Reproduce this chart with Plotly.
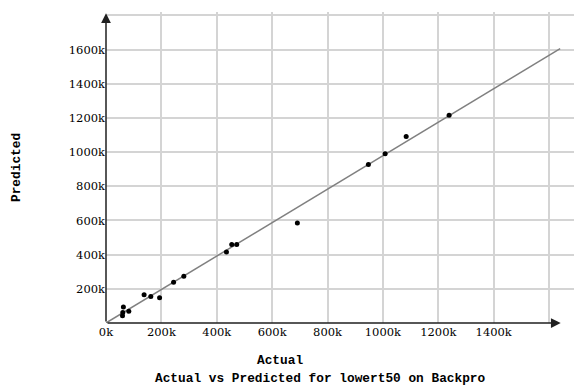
import plotly.graph_objects as go

# data in thousands
actual = [62.8, 60.7, 59.6, 82.3, 137.6, 161.8, 193.5, 244, 281, 435, 454, 472, 691, 947.5, 1008, 1084, 1239]
predicted = [93.6, 60.9, 42.1, 68.5, 166, 155, 147.5, 238, 273, 415.6, 459, 459, 585, 927, 991, 1091, 1216]

fit_x = [0, 1640]
fit_y = [0, 1606]

x_ticks = [0, 200, 400, 600, 800, 1000, 1200, 1400, 1600]
x_tick_labels = ["0k", "200k", "400k", "600k", "800k", "1000k", "1200k", "1400k", ""]
y_ticks = [0, 200, 400, 600, 800, 1000, 1200, 1400, 1600, 1800]
y_tick_labels = ["", "200k", "400k", "600k", "800k", "1000k", "1200k", "1400k", "1600k", ""]

X_MAX = 1690
Y_MAX = 1820

fig = go.Figure()
fig.add_trace(go.Scatter(x=fit_x, y=fit_y, mode="lines",
                         line=dict(color="#808080", width=1.5), hoverinfo="skip"))
fig.add_trace(go.Scatter(x=actual, y=predicted, mode="markers",
                         marker=dict(color="black", size=5)))

# axes with arrowheads
fig.add_annotation(x=1642, y=0, ax=0, ay=0, xref="x", yref="y", axref="x", ayref="y",
                   text="", showarrow=True, arrowhead=2, arrowsize=1.3, arrowwidth=1.5,
                   arrowcolor="#202020")
fig.add_annotation(x=0, y=1813, ax=0, ay=0, xref="x", yref="y", axref="x", ayref="y",
                   text="", showarrow=True, arrowhead=2, arrowsize=1.3, arrowwidth=1.5,
                   arrowcolor="#202020")

tick_font = dict(family="DejaVu Serif", size=11.5, color="black")
mono = dict(family="Liberation Mono", size=12.8, color="black")

fig.update_layout(
    width=574, height=390,
    margin=dict(l=106, r=0, t=12, b=67),
    paper_bgcolor="white", plot_bgcolor="white",
    showlegend=False,
    xaxis=dict(range=[0, X_MAX], tickvals=x_ticks, ticktext=x_tick_labels,
               showgrid=True, gridcolor="#d4d4d4", gridwidth=1.5,
               zeroline=False, showline=False, ticks="", tickfont=tick_font,
               fixedrange=True),
    yaxis=dict(range=[0, Y_MAX], tickvals=y_ticks, ticktext=y_tick_labels,
               showgrid=True, gridcolor="#d4d4d4", gridwidth=1.5,
               zeroline=False, showline=False, ticks="", tickfont=tick_font,
               fixedrange=True),
)

fig.add_annotation(text="<b>Actual</b>", xref="paper", yref="paper", x=(280 - 106) / 468, y=-(360 - 323) / 311,
                   showarrow=False, font=mono, xanchor="center", yanchor="middle")
fig.add_annotation(text="<b>Actual vs Predicted for lowert50 on Backpro</b>", xref="paper", yref="paper",
                   x=(320 - 106) / 468, y=-(378 - 323) / 311,
                   showarrow=False, font=mono, xanchor="center", yanchor="middle")
fig.add_annotation(text="<b>Predicted</b>", xref="paper", yref="paper", x=-(106 - 16) / 468,
                   y=(323 - 168) / 311, textangle=-90,
                   showarrow=False, font=mono, xanchor="center", yanchor="middle")

fig.write_html("out.html", config={"displayModeBar": False},
               post_script="document.body.style.margin='0';document.body.style.overflow='hidden';")
